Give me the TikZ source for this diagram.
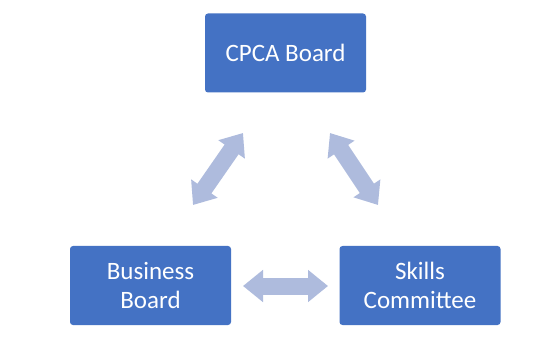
\documentclass[tikz,border=0pt]{standalone}
\usepackage{fontspec}
\setmainfont{Carlito}
\usetikzlibrary{arrows.meta}
\definecolor{boxblue}{HTML}{4472C4}
\definecolor{arrowblue}{HTML}{AEBBDD}
\begin{document}
\begin{tikzpicture}[x=1pt,y=-1pt,
  box/.style={draw=none, fill=boxblue, rounded corners=3pt, minimum width=161pt, minimum height=79pt,
    text=white, font=\fontsize{25}{29}\selectfont, align=center, inner sep=0pt},
  link/.style={draw=arrowblue, line width=17pt,
    {Triangle[width=31pt,length=20pt]}-{Triangle[width=31pt,length=20pt]}}]
\useasboundingbox (0,0) rectangle (537,344);
\fill[white] (0,0) rectangle (537,344);
\node[box] (cpca) at (285.5,53) {CPCA Board};
\node[box] (bus) at (150.5,285.5) {Business\\Board};
\node[box] (ski) at (420,285.5) {Skills\\Committee};
\coordinate (l1) at (193,205);
\coordinate (l2) at (243,133);
\coordinate (r1) at (330,133);
\coordinate (r2) at (378,205);
\coordinate (h1) at (243,286);
\coordinate (h2) at (328,286);
\draw[link] (l1) -- (l2);
\draw[link] (r1) -- (r2);
\draw[link] (h1) -- (h2);
\end{tikzpicture}
\end{document}
